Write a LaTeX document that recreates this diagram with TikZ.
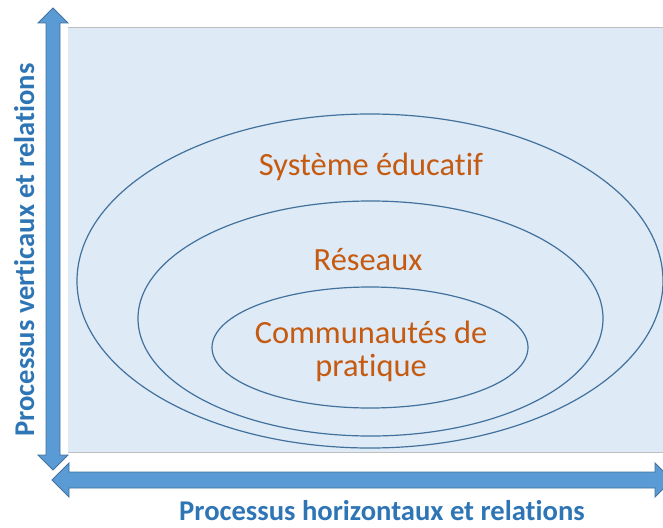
\documentclass[tikz,border=0pt]{standalone}
\usepackage{fontspec}
\setmainfont{Carlito}[Ligatures=NoCommon]
\definecolor{panelfill}{HTML}{DEEAF6}
\definecolor{panelline}{HTML}{BFBFBF}
\definecolor{arrowfill}{HTML}{5B9BD5}
\definecolor{arrowline}{HTML}{41719C}
\definecolor{ringline}{HTML}{41719C}
\definecolor{labelorange}{HTML}{C55A11}
\definecolor{axisblue}{HTML}{2E75B6}
\tikzset{
  ring/.style={draw=ringline, line width=1.2pt},
  ringlabel/.style={text=labelorange, font=\fontsize{32.4}{36}\selectfont, align=center, inner sep=0pt},
  axislabel/.style={text=axisblue, font=\fontsize{28.6}{32}\selectfont\bfseries, inner sep=0pt},
  bigarrow/.style={fill=arrowfill, draw=arrowline, line width=0.8pt, line join=miter},
}
\begin{document}
\begin{tikzpicture}[x=1pt,y=-1pt]
\useasboundingbox (0,0) rectangle (663,527);
% panel
\fill[panelfill] (68,27) rectangle (670,452);
\draw[panelline, line width=0.8pt] (68,27) -- (670,27);
\draw[panelline, line width=0.8pt] (68,452) -- (670,452);
% ellipses
\draw[ring] (370,281) ellipse [x radius=293, y radius=167];
\draw[ring] (370.5,318.5) ellipse [x radius=232.5, y radius=117.5];
\draw[ring] (370,347.5) ellipse [x radius=158, y radius=60.5];
% labels
\node[ringlabel, anchor=base] (sys) at (371,175) {Système éducatif};
\node[ringlabel, anchor=base] (res) at (368,270) {Réseaux};
\node[ringlabel, anchor=base] (com) at (371,343) {Communautés de};
\node[ringlabel, anchor=base] (pra) at (371,376) {pratique};
% vertical double arrow
\draw[bigarrow] (53,8) -- (68,23) -- (60,23) -- (60,455) -- (68,455) -- (53,470)
  -- (38,455) -- (46,455) -- (46,23) -- (38,23) -- cycle;
% horizontal double arrow
\draw[bigarrow] (52,480) -- (69,463) -- (69,472) -- (655,472) -- (655,463) -- (664,472)
  -- (664,488) -- (655,497) -- (655,488) -- (69,488) -- (69,497) -- cycle;
% axis labels
\node[axislabel, rotate=90, anchor=base] (vert) at (34,250) {Processus verticaux et relations};
\node[axislabel, anchor=base] (hor) at (382,520) {Processus horizontaux et relations};
\end{tikzpicture}
\end{document}
